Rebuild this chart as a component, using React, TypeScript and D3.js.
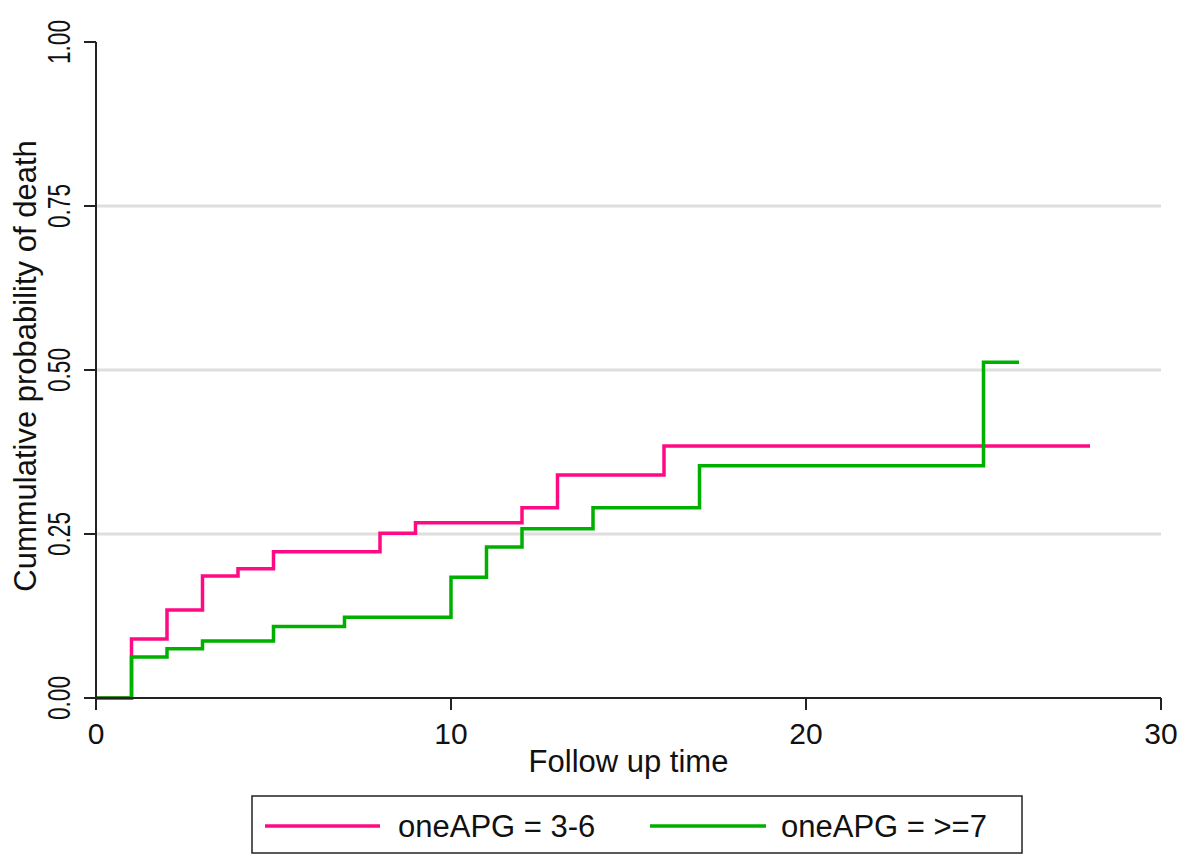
import React, { useEffect, useRef } from "react";
import { select, scaleLinear, line, curveStepAfter } from "d3";

// Kaplan-Meier style failure curves
const pinkTimes = [0, 1, 2, 3, 4, 5, 8, 9, 12, 13, 16, 28];
const pinkValues = [0, 0.09, 0.134, 0.186, 0.197, 0.223, 0.251, 0.267, 0.29, 0.34, 0.384, 0.384];

const greenTimes = [0, 1, 2, 3, 5, 7, 10, 11, 12, 14, 17, 25, 26];
const greenValues = [0, 0.0625, 0.075, 0.087, 0.109, 0.123, 0.184, 0.23, 0.258, 0.29, 0.354, 0.512, 0.512];

const xTicks = [0, 10, 20, 30];
const yTicks = [0, 0.25, 0.5, 0.75, 1];
const yTickLabels = ["0.00", "0.25", "0.50", "0.75", "1.00"];
const gridTicks = [0.25, 0.5, 0.75];

const seriesNames = ["oneAPG = 3-6", "oneAPG = >=7"];
const seriesColors = ["#ff0a84", "#00b000"];

const W = 1184;
const H = 855;
const FONT = "'Liberation Sans', Arial, sans-serif";

function App() {
    const svgRef = useRef<SVGSVGElement>(null);

    useEffect(() => {
        const svg = select(svgRef.current);
        svg.selectAll("*").remove();

        const x = scaleLinear().domain([0, 30]).range([96, 1161]);
        const y = scaleLinear().domain([0, 1]).range([698, 42]);

        // gridlines
        svg.append("g")
            .selectAll("line")
            .data(gridTicks)
            .join("line")
            .attr("x1", x(0))
            .attr("x2", x(30))
            .attr("y1", d => y(d))
            .attr("y2", d => y(d))
            .attr("stroke", "#dedede")
            .attr("stroke-width", 3);

        // curves
        const series = [
            { times: pinkTimes, values: pinkValues, color: seriesColors[0] },
            { times: greenTimes, values: greenValues, color: seriesColors[1] },
        ];
        const stepLine = line<[number, number]>()
            .x(d => x(d[0]))
            .y(d => y(d[1]))
            .curve(curveStepAfter);

        svg.append("g")
            .selectAll("path")
            .data(series)
            .join("path")
            .attr("d", s => stepLine(s.times.map((t, i) => [t, s.values[i]] as [number, number])))
            .attr("fill", "none")
            .attr("stroke", s => s.color)
            .attr("stroke-width", 3.5)
            .attr("stroke-linejoin", "miter");

        // axes
        const axes = svg.append("g").attr("stroke", "#222").attr("stroke-width", 2);
        axes.append("line").attr("x1", x(0)).attr("x2", x(0)).attr("y1", y(0) + 12).attr("y2", y(1));
        axes.append("line").attr("x1", x(0) - 12).attr("x2", x(30)).attr("y1", y(0)).attr("y2", y(0));
        axes.selectAll(".ytick")
            .data(yTicks)
            .join("line")
            .attr("class", "ytick")
            .attr("x1", x(0) - 12)
            .attr("x2", x(0))
            .attr("y1", d => y(d))
            .attr("y2", d => y(d));
        axes.selectAll(".xtick")
            .data(xTicks)
            .join("line")
            .attr("class", "xtick")
            .attr("x1", d => x(d))
            .attr("x2", d => x(d))
            .attr("y1", y(0))
            .attr("y2", y(0) + 12);

        // tick labels
        svg.append("g")
            .selectAll("text")
            .data(xTicks)
            .join("text")
            .attr("x", d => x(d))
            .attr("y", 744)
            .attr("text-anchor", "middle")
            .attr("font-family", FONT)
            .attr("font-size", 30)
            .attr("fill", "#111")
            .text(d => d);

        svg.append("g")
            .selectAll("text")
            .data(yTicks)
            .join("text")
            .attr("transform", d => `translate(70, ${y(d)}) rotate(-90)`)
            .attr("text-anchor", "middle")
            .attr("font-family", FONT)
            .attr("font-size", 32)
            .attr("textLength", 44)
            .attr("lengthAdjust", "spacingAndGlyphs")
            .attr("fill", "#111")
            .text((d, i) => yTickLabels[i]);

        // axis titles
        svg.append("text")
            .attr("x", (x(0) + x(30)) / 2)
            .attr("y", 772)
            .attr("text-anchor", "middle")
            .attr("font-family", FONT)
            .attr("font-size", 31)
            .attr("fill", "#111")
            .text("Follow up time");

        svg.append("text")
            .attr("transform", `translate(36, 366) rotate(-90)`)
            .attr("text-anchor", "middle")
            .attr("font-family", FONT)
            .attr("font-size", 31)
            .attr("fill", "#111")
            .text("Cummulative probability of death");

        // legend
        const legend = svg.append("g");
        legend.append("rect")
            .attr("x", 252)
            .attr("y", 796)
            .attr("width", 770)
            .attr("height", 57)
            .attr("fill", "white")
            .attr("stroke", "#222")
            .attr("stroke-width", 1.5);
        const items = [
            { x1: 265, x2: 380, tx: 398 },
            { x1: 650, x2: 766, tx: 781 },
        ];
        items.forEach((it, i) => {
            legend.append("line")
                .attr("x1", it.x1)
                .attr("x2", it.x2)
                .attr("y1", 826)
                .attr("y2", 826)
                .attr("stroke", seriesColors[i])
                .attr("stroke-width", 3.5);
            legend.append("text")
                .attr("x", it.tx)
                .attr("y", 837)
                .attr("font-family", FONT)
                .attr("font-size", 31)
                .attr("fill", "#111")
                .text(seriesNames[i]);
        });
    }, []);

    return (
        <svg
            ref={svgRef}
            width={W}
            height={H}
            style={{ position: "absolute", left: 0, top: 0, background: "white" }}
        />
    );
}

export default App;
